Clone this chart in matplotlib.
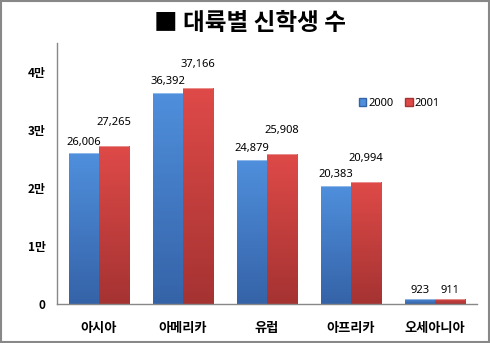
import numpy as np
import matplotlib
matplotlib.use("Agg")
import matplotlib.pyplot as plt
from matplotlib.colors import LinearSegmentedColormap

plt.rcParams["font.family"] = ["Noto Sans CJK KR", "DejaVu Sans"]

regions = ["아시아", "아메리카", "유럽", "아프리카", "오세아니아"]
years = ["2000", "2001"]
students_2000 = [26006, 36392, 24879, 20383, 923]
students_2001 = [27265, 37166, 25908, 20994, 911]
ytick_vals = [0, 10000, 20000, 30000, 40000]
ytick_text = ["0", "1만", "2만", "3만", "4만"]

# (top, bottom) shades for the vertical gradient of each series
shades = [("#4f8fdc", "#3563a8"), ("#de4a48", "#a53332")]
num_font = ["Noto Sans", "DejaVu Sans"]

fig = plt.figure(figsize=(4.9, 3.43), dpi=100)
ax = fig.add_axes([0.116, 0.1137, 0.857, 0.761])

x = np.arange(len(regions))
w = 0.36
for i, (vals, (top, bot)) in enumerate(zip([students_2000, students_2001], shades)):
    cmap = LinearSegmentedColormap.from_list(f"g{i}", [bot, top])
    xs = x + (i - 0.5) * w
    bars = ax.bar(xs, vals, w, color=top, label=years[i], edgecolor="none")
    for b in bars:
        b.set_facecolor("none")
        x0, y0 = b.get_x(), b.get_y()
        x1, y1 = x0 + b.get_width(), y0 + b.get_height()
        grad = np.linspace(0, 1, 64).reshape(-1, 1)
        im = ax.imshow(grad, cmap=cmap, origin="lower", aspect="auto",
                       extent=(x0, x1, y0, y1), zorder=1)
        im.set_clip_path(b)
        # light rim along the top edge
        ax.plot([x0, x1], [y1, y1], color="white", alpha=0.45, lw=1.2,
                zorder=2, solid_capstyle="butt")
    for xi, v in zip(xs, vals):
        if v < 5000:
            off = 2
        else:
            off = 13 if i == 1 else 4
        ax.annotate(f"{v:,}", (xi, v), xytext=(0, off),
                    textcoords="offset points", ha="center", va="bottom",
                    fontsize=8, family=num_font)

ax.set_xlim(-0.5, len(regions) - 0.5)
ax.set_ylim(0, 45000)
ax.set_yticks(ytick_vals)
ax.set_yticklabels(ytick_text, fontsize=8.5, fontweight="bold")
ax.set_xticks(x)
ax.set_xticklabels(regions, fontsize=9.5, fontweight="bold")
ax.tick_params(axis="both", length=0)
ax.tick_params(axis="y", pad=8)
ax.tick_params(axis="x", pad=12)
for s in ["top", "right"]:
    ax.spines[s].set_visible(False)
for s in ["left", "bottom"]:
    ax.spines[s].set_color("#888888")
    ax.spines[s].set_linewidth(1)

handles = [plt.Rectangle((0, 0), 1, 1, facecolor=c[0], edgecolor=c[1]) for c in shades]
ax.legend(handles, years, loc="center left", bbox_to_anchor=(0.695, 0.77),
          frameon=False, ncol=2, handlelength=0.7, handleheight=0.7,
          handletextpad=0.2, columnspacing=1.0,
          prop={"family": num_font, "size": 8})

fig.text(0.51, 0.932, "■ 대륙별 신학생 수", ha="center", va="center",
         fontsize=17, fontweight="bold", family=["Noto Sans CJK KR", "DejaVu Sans"])

# gray frame round the whole chart
fig.patches.append(plt.Rectangle((0.002, 0.003), 0.996, 0.994, transform=fig.transFigure,
                                 fill=False, edgecolor="#888888", lw=1.5))

fig.savefig("out.png", dpi=100)
